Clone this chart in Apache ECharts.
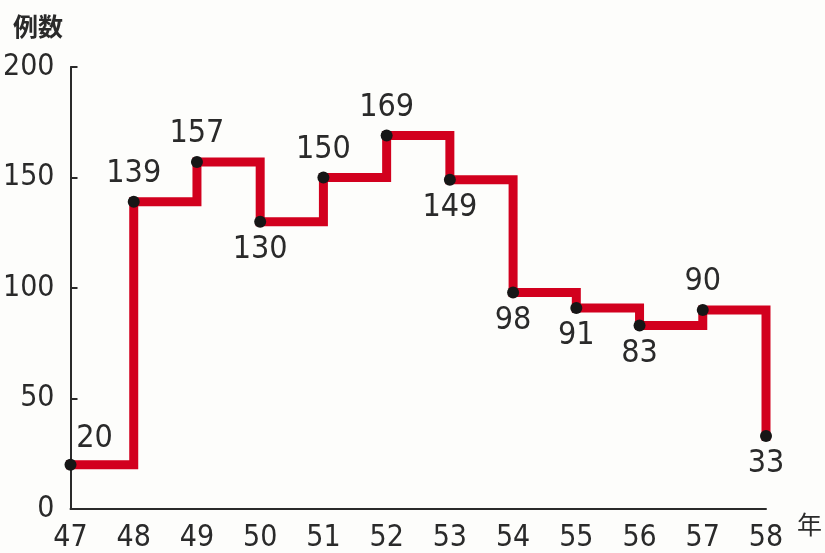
<!DOCTYPE html>
<html>
<head>
<meta charset="utf-8">
<script src="https://cdn.jsdelivr.net/npm/echarts@6/dist/echarts.min.js"></script>
<style>
  html, body { margin: 0; padding: 0; background: #fdfdfb; }
  #chart { width: 825px; height: 553px; }
</style>
</head>
<body>
<div id="chart"></div>
<script>
// Yearly case counts (Showa years 47–58)
const years = [47, 48, 49, 50, 51, 52, 53, 54, 55, 56, 57, 58];
const cases = [20, 139, 157, 130, 150, 169, 149, 98, 91, 83, 90, 33];
// Where each value label sits relative to its point
const labelSides = ['right', 'top', 'top', 'bottom', 'top', 'top', 'bottom', 'bottom', 'bottom', 'bottom', 'top', 'bottom'];
const yTicks = [0, 50, 100, 150, 200];

const digitFont = '"DejaVu Sans Condensed", "DejaVu Sans", sans-serif';

const seriesData = years.map((yr, i) => {
  const side = labelSides[i];
  const label = side === 'right'
    ? { position: 'top', offset: [24, 2] }
    : { position: side };
  return { value: [yr, cases[i]], label };
});

const chart = echarts.init(document.getElementById('chart'), null, { renderer: 'canvas' });
chart.setOption({
  backgroundColor: '#fdfdfb',
  animation: false,
  grid: { left: 70, right: 59, top: 67, bottom: 43 },
  xAxis: {
    type: 'value',
    min: 47, max: 58, interval: 1,
    axisLine: { show: true, lineStyle: { color: '#2a2a2a', width: 2 } },
    axisTick: { show: false },
    splitLine: { show: false },
    axisLabel: { color: '#2a2a2a', fontFamily: digitFont, fontSize: 30, margin: 14 }
  },
  yAxis: {
    type: 'value',
    min: yTicks[0], max: yTicks[yTicks.length - 1], interval: 50,
    axisLine: { show: true, lineStyle: { color: '#2a2a2a', width: 2 } },
    axisTick: { show: true, inside: true, length: 7, lineStyle: { color: '#2a2a2a', width: 2 } },
    splitLine: { show: false },
    axisLabel: { color: '#2a2a2a', fontFamily: digitFont, fontSize: 30, margin: 16 }
  },
  graphic: [
    { type: 'text', left: 13, top: 14,
      style: { text: '例数', fill: '#2a2a2a', font: 'bold 25px "Noto Sans CJK JP", sans-serif' } },
    { type: 'text', left: 797, top: 512,
      style: { text: '年', fill: '#2a2a2a', font: '25px "Noto Sans CJK JP", sans-serif' } }
  ],
  series: [{
    type: 'line',
    step: 'end',
    data: seriesData,
    symbol: 'circle',
    symbolSize: 12,
    itemStyle: { color: '#161616' },
    lineStyle: { color: '#d2001e', width: 9, cap: 'square', join: 'miter' },
    label: {
      show: true,
      color: '#2a2a2a',
      fontFamily: digitFont,
      fontSize: 32,
      distance: 6
    },
    z: 3
  }]
});
</script>
</body>
</html>
